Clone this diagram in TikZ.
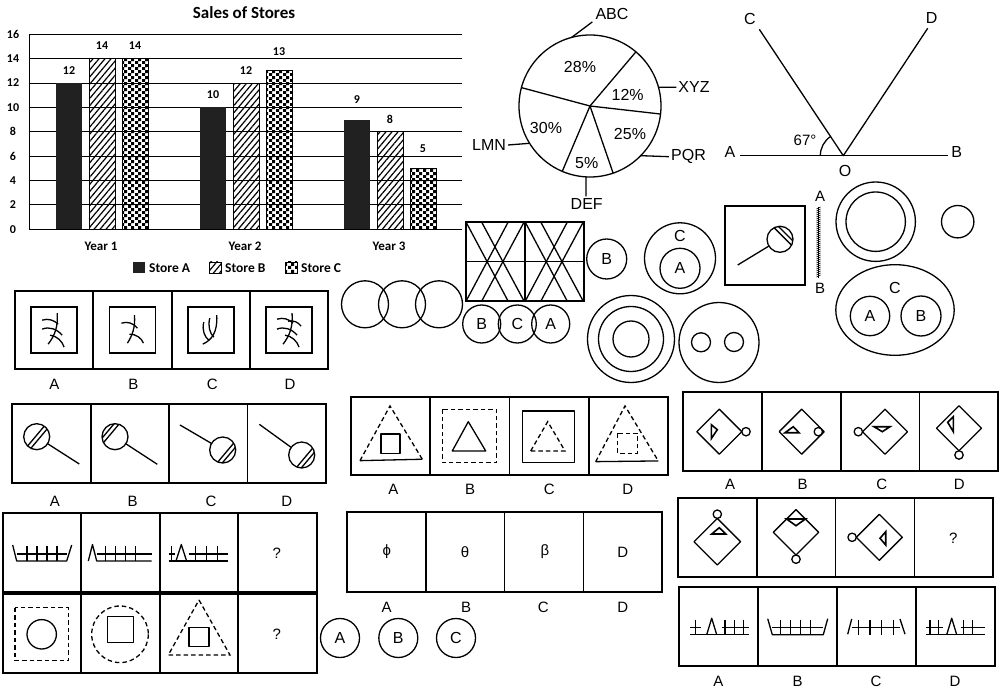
\documentclass[tikz,border=0pt]{standalone}
\usepackage{fontspec}
\setmainfont{Liberation Sans}
\newfontfamily\calibri{Carlito}
\usetikzlibrary{patterns, patterns.meta, calc}

% checker pattern for store C
\pgfdeclarepatternformonly{checks}{\pgfpointorigin}{\pgfqpoint{6.4pt}{6.4pt}}{\pgfqpoint{6.4pt}{6.4pt}}{%
  \pgfpathrectangle{\pgfpointorigin}{\pgfqpoint{3.2pt}{3.2pt}}%
  \pgfpathrectangle{\pgfqpoint{3.2pt}{3.2pt}}{\pgfqpoint{3.2pt}{3.2pt}}%
  \pgfusepath{fill}}

% row of four answer cells: x, y, cell width, cell height
\newcommand{\cellrow}[4]{%
  \draw[box] (#1,#2) rectangle ++(4*#3,#4);
  \foreach \k in {1,2,3} \draw[box] (#1+\k*#3,#2) -- ++(0,#4);}

% ball on a stick: centre, free end, stripe angle, stripe offsets
\newcommand{\pinball}[4]{%
  \draw[fig] ($(#1)!13pt!(#2)$) -- (#2);
  \draw[fig] (#1) circle (13);
  \begin{scope}
    \clip (#1) circle (13);
    \foreach \o in {#4}
      \draw[fig] ($(#1)+(#3+90:\o)$) +(#3:-20) -- +(#3:20);
  \end{scope}}

\begin{document}
\begin{tikzpicture}[
    x=1pt, y=-1pt,
    fig/.style = {line width=1.3pt, line join=round},
    box/.style = {line width=1.8pt},
    dashline/.style = {line width=1.3pt, dash pattern=on 4.5pt off 3pt},
    tri/.style = {line width=1.6pt, line join=miter},
    lbl/.style = {inner sep=0pt, font=\fontsize{15}{17}\selectfont},
    big/.style = {inner sep=0pt, font=\fontsize{16}{18}\selectfont},
    bar/.style = {inner sep=0pt, font=\calibri\bfseries\fontsize{12}{14}\selectfont},
    ring/.style = {circle, draw, line width=1.3pt, inner sep=0pt,
                   font=\fontsize{16}{18}\selectfont},
    hatchB/.style = {pattern={Lines[angle=50, distance=4.6pt, line width=1.2pt]}}
]
\useasboundingbox (0,0) rectangle (1006,692);

% Grafico de barras
\node[font=\calibri\bfseries\fontsize{17}{19}\selectfont, inner sep=0pt] (title) at (244,13) {Sales of Stores};
\foreach \v in {0,2,...,16} {
  \draw[line width=1pt] (29,229.3-\v*12.19) -- (462,229.3-\v*12.19);
  \node[bar] (tick\v) at (13,229.3-\v*12.19) {\v};
}
\draw[line width=1pt] (29,34.3) -- (29,229.3);
\foreach \x/\ya/\yb/\yc in {56/12/14/14, 200/10/12/13, 344/9/8/5} {
  \fill[black!87] (\x,229.3) rectangle (\x+26,229.3-\ya*12.19);
  \draw[line width=0.9pt, hatchB] (\x+33,229.3) rectangle (\x+59,229.3-\yb*12.19);
  \draw[line width=0.9pt, pattern=checks] (\x+66,229.3) rectangle (\x+92,229.3-\yc*12.19);
  \node[bar] (va\x) at ({\x+13},{216.6-\ya*12.19-7*mod(\ya,2)}) {\ya};
  \node[bar] (vb\x) at ({\x+46},{216.6-\yb*12.19-7*mod(\yb,2)}) {\yb};
  \node[bar] (vc\x) at ({\x+79},{216.6-\yc*12.19-7*mod(\yc,2)}) {\yc};
}
\node[bar, font=\calibri\bfseries\fontsize{13}{15}\selectfont] (year1) at (101,246.7) {Year 1};
\node[bar, font=\calibri\bfseries\fontsize{13}{15}\selectfont] (year2) at (245,246.7) {Year 2};
\node[bar, font=\calibri\bfseries\fontsize{13}{15}\selectfont] (year3) at (389,246.7) {Year 3};
% leyenda
\fill[black!87] (133,262) rectangle (145,273.5);
\node[bar, anchor=west, font=\calibri\bfseries\fontsize{13.5}{15}\selectfont] (legA) at (149,268) {Store A};
\draw[line width=0.9pt, hatchB] (209,262) rectangle (221,273.5);
\node[bar, anchor=west, font=\calibri\bfseries\fontsize{13.5}{15}\selectfont] (legB) at (225,268) {Store B};
\draw[line width=0.9pt, pattern=checks] (285,262) rectangle (297,273.5);
\node[bar, anchor=west, font=\calibri\bfseries\fontsize{13.5}{15}\selectfont] (legC) at (301,268) {Store C};

% Grafico circular
\coordinate (pie) at (590,106);
\draw[fig] (pie) circle (71);
\foreach \a in {-49.7, 6.5, 71, 113, -165} \draw[fig] (pie) -- +(\a:71);
\node[big] (p28) at (580,66.7) {28\%};
\node[big] (p12) at (627.7,95) {12\%};
\node[big] (p25) at (630,134) {25\%};
\node[big] (p5)  at (586.7,163.3) {5\%};
\node[big] (p30) at (546,128.3) {30\%};
\node[big] (nABC) at (612,14) {ABC};
\node[big] (nXYZ) at (694,87.3) {XYZ};
\node[big] (nPQR) at (688.5,156.7) {PQR};
\node[big] (nDEF) at (586.7,204) {DEF};
\node[big] (nLMN) at (489,145) {LMN};
\draw[fig] (pie) ++(-105:71) -- ($(nABC.south west)+(-3,2)$);
\draw[fig] (pie) ++(-15.3:71) -- ($(nXYZ.west)+(-2,0)$);
\draw[fig] (pie) ++(44.4:71) -- ($(nPQR.west)+(-2,0)$);
\draw[fig] (pie) ++(93.2:71) -- ($(nDEF.north)+(-0.7,-2)$);
\draw[fig] (pie) ++(148.3:71) -- ($(nLMN.east)+(2,0)$);

% Angulo
\coordinate (O) at (843.3,155.7);
\coordinate (pA) at (740,155.7);
\coordinate (pB) at (948.3,155.7);
\coordinate (pC) at (759.3,29.3);
\coordinate (pD) at (927.7,28.3);
\draw[fig] (pA) -- (pB);
\draw[fig] (pC) -- (O) -- (pD);
\draw[fig] (O) ++(-180:23) arc[start angle=-180, end angle=-123.6, radius=23];
\node[big] (lA) at (730,151.7) {A};
\node[big] (lB) at (956.7,151.7) {B};
\node[big] (lC) at (750,19.3) {C};
\node[big] (lD) at (931.7,18.3) {D};
\node[big] (lO) at (845,171) {O};
\node[lbl] (deg) at (805,140) {67°};

% Circulos de Venn
\foreach \x in {365,402,439} \draw[fig] (\x,304.3) circle (23.5);

% Rejilla
\draw[box] (466,222) rectangle (584.3,301.3);
\draw[box] (466,261.6) -- (584.3,261.6);
\draw[box] (525.15,222) -- (525.15,301.3);
\foreach \x in {466,525.15} {
  \draw[fig] (\x,222) -- (\x+42.2,301.3);
  \draw[fig] (\x+42.2,222) -- (\x,301.3);
  \draw[fig] (\x+15.6,222) -- (\x+58.15,301.3);
  \draw[fig] (\x+58.15,222) -- (\x+15.6,301.3);
}
\node[ring, minimum size=40] (cB) at (606.7,259) {B};
\node[ring, minimum size=38] (vB) at (481.7,324) {B};
\node[ring, minimum size=38] (vC) at (517.3,324) {C};
\node[ring, minimum size=38] (vA) at (550.7,324) {A};

% Conjunto C con A
\draw[fig] (680,258.3) circle (35.5);
\node[lbl, font=\fontsize{16}{18}\selectfont] (sC) at (680,235.7) {C};
\node[ring, minimum size=40] (sA) at (680,268.3) {A};

% Anillos
\foreach \r in {43.5,32.5,18} \draw[fig] (631,339) circle (\r);
\draw[fig] (719,342.5) circle (40);
\draw[fig] (701,342.3) circle (9.5);
\draw[fig] (734,342) circle (9.5);

% Espejo
\draw[box] (725,206) rectangle (805,285);
\pinball{780,239.3}{737.7,265}{45}{-4,-8}
\draw[line width=1.2pt] (818.8,206.7) -- (818.8,277.7);
\foreach \y in {207,209,...,276} \draw[line width=0.6pt] (816.4,\y+2) -- (820.6,\y);
\node[lbl] (mA) at (820,196.7) {A};
\node[lbl] (mB) at (820,288.3) {B};

% Anillo, circulo, elipse
\draw[fig] (875.7,221.7) circle (39.7);
\draw[fig] (875.7,221.7) circle (29.7);
\draw[fig] (957.7,221.7) circle (16.2);
\draw[fig] (895,310) ellipse [x radius=59.2, y radius=45.3];
\node[lbl, font=\fontsize{16}{18}\selectfont] (eC) at (895,288.3) {C};
\node[ring, minimum size=39.4] (eA) at (870,316) {A};
\node[ring, minimum size=40] (eB) at (921,316) {B};

% Fila 1: telaranas
\cellrow{15}{291}{78.3}{78.3}
\foreach \x in {54.15,132.45,210.75,289.05} \draw[box] (\x-23,307.15) rectangle (\x+23,353.15);
\begin{scope}[shift={(54.15,330.15)}]
  \draw[fig] (3,-17) .. controls (4,-4) and (1,5) .. (-6,14);
  \draw[fig] (-12,-10) .. controls (-6,-12) and (0,-10) .. (4,-6);
  \draw[fig] (-12,-1) .. controls (-5,-4) and (3,-1) .. (8,5);
  \draw[fig] (-4,5) .. controls (3,6) and (8,11) .. (10,17);
\end{scope}
\begin{scope}[shift={(132.45,330.15)}]
  \draw[fig] (2,-15) .. controls (3,-3) and (0,5) .. (-5,13);
  \draw[fig] (-11,-7) .. controls (-5,-9) and (1,-7) .. (5,-2);
  \draw[fig] (-3,4) .. controls (4,4) and (9,8) .. (11,13);
\end{scope}
\begin{scope}[shift={(210.75,330.15)}]
  \draw[fig] (6,-15) .. controls (7,2) and (1,10) .. (-8,14);
  \draw[fig] (-1,-12) .. controls (-3,-4) and (-1,3) .. (3,7);
  \draw[fig] (-7,-8) .. controls (-9,0) and (-6,7) .. (-2,10);
\end{scope}
\begin{scope}[shift={(289.05,330.15)}]
  \draw[fig] (3,-17) .. controls (4,-4) and (1,5) .. (-6,14);
  \draw[fig] (-12,-11) .. controls (-6,-13) and (0,-11) .. (4,-7);
  \draw[fig] (-1,-9) .. controls (5,-10) and (9,-8) .. (12,-4);
  \draw[fig] (-12,-1) .. controls (-5,-4) and (3,-1) .. (8,5);
  \draw[fig] (-4,5) .. controls (3,6) and (8,11) .. (10,17);
\end{scope}
\foreach \l/\x in {A/54.3, B/133.3, C/212.3, D/290} \node[lbl] (ra\l) at (\x,384.3) {\l};

% Fila 2: bolas
\cellrow{12.3}{404}{78.4}{79.3}
\pinball{36.7,436.7}{79.3,464}{-50}{-1,3}
\pinball{115,436.7}{157.3,464.3}{-50}{-5,-9}
\pinball{222.7,450}{180,425}{-50}{4,8}
\pinball{301.7,455}{259.3,424.3}{-50}{4,8}
\foreach \l/\x in {A/55, B/132.7, C/211, D/286.7} \node[lbl] (rb\l) at (\x,501) {\l};

% Fila 3: triangulos y cuadrados
\cellrow{351}{397.3}{79.2}{77.7}
\begin{scope}[shift={(390.6,436.15)}]
  \draw[dashline] (-30.6,24.5) -- (-0.6,-30.2) -- (31.7,23.1);
  \draw[fig] (-30.6,24.5) -- (31.7,23.1);
  \draw[fig] (-9.6,-2.2) rectangle (9.4,17.1);
\end{scope}
\begin{scope}[shift={(469.8,436.15)}]
  \draw[dashline] (-27.5,-26.9) rectangle (26.9,26.5);
  \draw[fig] (-17.5,14.8) -- (-1.5,-14.5) -- (15.9,14.8) -- cycle;
\end{scope}
\begin{scope}[shift={(549,436.15)}]
  \draw[fig] (-26.7,-25.2) rectangle (25.3,26.5);
  \draw[dashline] (-18.3,14.8) -- (-1.3,-14.5) -- (16,14.8) -- cycle;
\end{scope}
\begin{scope}[shift={(628.2,436.15)}]
  \draw[dashline] (-32.5,25.5) -- (-3.2,-30.2) -- (30.1,24.8);
  \draw[fig] (-32.5,25.5) -- (30.1,24.8);
  \draw[dashline] (-10.5,-2.9) rectangle (9.5,17.1);
\end{scope}
\foreach \l/\x in {A/393.3, B/470, C/549.3, D/627.7} \node[lbl] (rc\l) at (\x,489.3) {\l};

% Fila 4: rombos
\cellrow{683.3}{391.7}{78.75}{79.3}
\begin{scope}[shift={(719.3,431.7)}]
  \draw[fig] (-22.5,0) -- (0,-22.5) -- (22.5,0) -- (0,22.5) -- cycle;
  \draw[fig] (26.7,0) circle (4.2);
  \draw[tri] (-8,-7) -- (-8,7) -- (-2,-2) -- cycle;
\end{scope}
\begin{scope}[shift={(801.7,431.7)}]
  \draw[fig] (-22.5,0) -- (0,-22.5) -- (22.5,0) -- (0,22.5) -- cycle;
  \draw[fig] (16.6,0) circle (4.2);
  \draw[tri] (-16.7,1) -- (-2.7,1) -- (-8.4,-5) -- cycle;
\end{scope}
\begin{scope}[shift={(885,431.7)}]
  \draw[fig] (-22.5,0) -- (0,-22.5) -- (22.5,0) -- (0,22.5) -- cycle;
  \draw[fig] (-26.7,0) circle (4.2);
  \draw[tri] (-11,-5) -- (5,-5) -- (-2.7,0) -- cycle;
\end{scope}
\begin{scope}[shift={(959,428.3)}]
  \draw[fig] (-22.5,0) -- (0,-22.5) -- (22.5,0) -- (0,22.5) -- cycle;
  \draw[fig] (0,26.7) circle (4.2);
  \draw[tri] (-5.7,-11.6) -- (-5.7,3.4) -- (-11.3,-6) -- cycle;
\end{scope}
\foreach \l/\x in {A/730, B/802.7, C/881.7, D/959.3} \node[lbl] (rd\l) at (\x,484.3) {\l};

% Fila 5: rombos con pregunta
\cellrow{677.7}{498.3}{78.9}{78.4}
\begin{scope}[shift={(717.3,541.7)}]
  \draw[fig] (-23.3,0) -- (0,-23.3) -- (23.3,0) -- (0,23.3) -- cycle;
  \draw[fig] (0,-27.5) circle (4.2);
  \draw[tri] (-5.6,-7.7) -- (8.4,-7.7) -- (2,-14) -- cycle;
\end{scope}
\begin{scope}[shift={(796,532.3)}]
  \draw[fig] (-22.7,0) -- (0,-22.7) -- (22.7,0) -- (0,22.7) -- cycle;
  \draw[fig] (0,26.9) circle (4.2);
  \draw[tri] (-9.4,-13.3) -- (9.4,-13.3) -- (0,-6.6) -- cycle;
\end{scope}
\begin{scope}[shift={(879.3,537.3)}]
  \draw[fig] (-23,0) -- (0,-23) -- (23,0) -- (0,23) -- cycle;
  \draw[fig] (-27.2,0) circle (4.2);
  \draw[tri] (6.4,-5.6) -- (6.4,7.7) -- (0.7,1) -- cycle;
\end{scope}
\node[lbl] (q5) at (953.3,538.3) {?};

% Fila 6: vallas (respuestas)
\cellrow{679}{586.7}{79}{79}
\begin{scope}[shift={(718.5,626.2)}]
  \draw[fig] (-28.5,8.5) -- (30.5,8.5);
  \draw[fig] (-28.5,1.5) -- (-18,1.5) (3,1.5) -- (30.5,1.5);
  \foreach \p in {-22.8,6.5,15.8,24.8} \draw[fig] (\p,-6.5) -- (\p,8.5);
  \draw[fig] (-11.8,8.5) -- (-6.8,-8) -- (-1.8,8.5);
\end{scope}
\begin{scope}[shift={(797.5,626.2)}]
  \draw[fig] (-29.8,-7.5) -- (-25.2,8.5) -- (25.8,8.5) -- (30.2,-7.5);
  \draw[fig] (-25.2,1.5) -- (25.8,1.5);
  \foreach \p in {-17,-7,3,13} \draw[fig] (\p,-6.5) -- (\p,8.5);
\end{scope}
\begin{scope}[shift={(876.5,626.2)}]
  \draw[fig] (-28.8,8) -- (-24.8,-7.2);
  \draw[fig] (23.5,-7.2) -- (28.5,8);
  \draw[fig] (-24.8,1.5) -- (23.5,1.5);
  \foreach \p in {-18,-6.5,5.2,16.8} \draw[fig] (\p,-6.5) -- (\p,8.5);
\end{scope}
\begin{scope}[shift={(955.5,626.2)}]
  \draw[fig] (-29.8,8.5) -- (29.5,8.5);
  \draw[fig] (-29.8,1.5) -- (-13,1.5) (5,1.5) -- (29.5,1.5);
  \foreach \p in {-25.5,-17.2,7.8,17.2} \draw[fig] (\p,-6.5) -- (\p,8.5);
  \draw[fig] (-8.8,8.5) -- (-3.8,-8) -- (1.2,8.5);
\end{scope}
\foreach \l/\x in {A/718.3, B/797.7, C/876, D/955} \node[lbl] (rf\l) at (\x,681.7) {\l};

% Fila 7: vallas (pregunta)
\cellrow{2.7}{513.3}{78.5}{78.4}
\begin{scope}[shift={(42,552.5)}]
  \draw[fig] (-29.3,-7.5) -- (-25.3,8.5) -- (24.7,8.5) -- (29.7,-7.5);
  \draw[fig] (-25.3,1.5) -- (24.7,1.5);
  \foreach \p in {-15,-5,5,15} \draw[fig] (\p,-6.5) -- (\p,8.5);
\end{scope}
\begin{scope}[shift={(120.5,552.5)}]
  \draw[fig] (-32.2,8.5) -- (-28,-8) -- (-23.8,8.5) -- (31,8.5);
  \draw[fig] (-23.8,1.5) -- (31,1.5);
  \foreach \p in {-15,-5,5,15} \draw[fig] (\p,-6.5) -- (\p,8.5);
\end{scope}
\begin{scope}[shift={(198.6,552.5)}]
  \draw[fig] (-30,8.5) -- (29.7,8.5);
  \draw[fig] (-30,1.5) -- (-24,1.5) (-10,1.5) -- (29.7,1.5);
  \foreach \p in {-27,-3,8,19} \draw[fig] (\p,-6.5) -- (\p,8.5);
  \draw[fig] (-22.6,8.5) -- (-17.3,-8) -- (-12,8.5);
\end{scope}
\node[lbl] (q7) at (276.7,553.3) {?};

% Fila 8: figuras
\cellrow{2.7}{594.3}{78.5}{79}
\draw[dashline] (15,607.7) rectangle (68.3,660.7);
\draw[fig] (41.7,634.3) circle (14.7);
\draw[dashline] (120,634.3) circle (28.3);
\draw[fig] (107.3,616.7) rectangle (133.3,642.3);
\draw[dashline] (199,600) -- (230,655) -- (168.3,655) -- cycle;
\draw[fig] (189,627.3) rectangle (209,646.7);
\node[lbl] (q8) at (276.7,634.3) {?};

% Opciones A B C
\node[ring, minimum size=39] (oA) at (340,638) {A};
\node[ring, minimum size=39] (oB) at (398.3,638) {B};
\node[ring, minimum size=39] (oC) at (456,638) {C};

% Fila 9: letras griegas
\cellrow{346.7}{512.3}{78.9}{80}
\node[lbl] (gphi) at (386.7,552) {ϕ};
\node[lbl] (gtheta) at (465,552) {θ};
\node[lbl] (gbeta) at (545,552) {β};
\node[lbl] (gD) at (622.7,552) {D};
\foreach \l/\x in {A/386.7, B/466, C/543.3, D/622.7} \node[lbl] (rg\l) at (\x,607.7) {\l};

\end{tikzpicture}
\end{document}
